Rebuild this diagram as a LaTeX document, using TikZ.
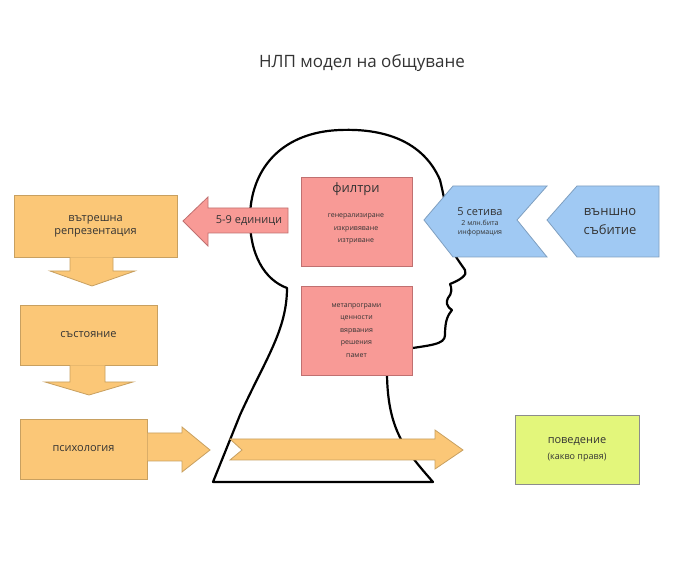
\documentclass[tikz,border=0pt]{standalone}
\usepackage{fontspec}
\setmainfont{Open Sans}
\begin{document}
\begin{tikzpicture}[x=1pt,y=-1pt,
  orng/.style={fill=orng, draw=orngd, line width=0.8pt},
  redb/.style={fill=redc, draw=redd, line width=0.8pt},
  blu/.style={fill=bluc, draw=blud, line width=0.8pt},
  lbl/.style={align=center, font=\fontsize{11}{16}\selectfont, text=black!80},
  sml/.style={align=center, font=\fontsize{7}{12.5}\selectfont, text=black!80}]
\definecolor{orng}{HTML}{FBC777}
\definecolor{orngd}{HTML}{C8A060}
\definecolor{redc}{HTML}{F89A96}
\definecolor{redd}{HTML}{C07070}
\definecolor{bluc}{HTML}{A0C9F3}
\definecolor{blud}{HTML}{7F9FC0}
\definecolor{grn}{HTML}{E3F67B}
\useasboundingbox (0,0) rectangle (678,577);
\fill[white] (0,0) rectangle (678,577);
\node[font=\fontsize{17}{20}\selectfont, text=black!80] (title) at (362,63) {НЛП модел на общуване};
% head
\draw[line width=2.2pt, line join=round] (213,482) -- (433,482)
  .. controls (405,450) and (388,430) .. (387,375) -- (400,350)
  .. controls (430,345) and (445,345) .. (445,335)
  .. controls (445,320) and (448,315) .. (452,310)
  .. controls (446,306) and (446,302) .. (448,298)
  .. controls (452,294) and (452,288) .. (450,284)
  .. controls (460,280) and (468,275) .. (465,270)
  .. controls (458,260) and (452,252) .. (451,245)
  .. controls (448,220) and (445,200) .. (440,180)
  .. controls (425,145) and (390,128) .. (340,130)
  .. controls (285,132) and (252,165) .. (250,215)
  .. controls (249,255) and (265,280) .. (287,288)
  .. controls (287,330) and (265,360) .. (240,415)
  -- (213,482) -- cycle;
% orange
\node[orng, minimum width=163, minimum height=62, lbl] (vr) at (95.5,226) {вътрешна\\[-3pt]репрезентация};
\node[orng, minimum width=137, minimum height=60, lbl] (st) at (88.5,335) {състояние};
\node[orng, minimum width=127, minimum height=60, lbl] (ps) at (83.5,449) {психология};
\draw[orng] (70,257.5) -- (70,271) -- (50,271) -- (92,286) -- (135,271) -- (113,271) -- (113,257.5);
\draw[orng] (70,365.5) -- (70,382) -- (45,382) -- (89,395) -- (133,382) -- (105,382) -- (105,365.5);
\draw[orng] (147.5,433) -- (182,433) -- (182,427) -- (210,450) -- (182,472) -- (182,461) -- (147.5,461);
\draw[orng] (230,439) -- (435,439) -- (435,430) -- (463,450) -- (435,469) -- (435,460) -- (230,460) -- (242,450) -- cycle;
% red
\draw[redb] (288,208) -- (208,208) -- (208,197) -- (183,221) -- (208,246) -- (208,233) -- (288,233) -- cycle;
\node[lbl] (ed) at (249,220.5) {5-9 единици};
\node[redb, minimum width=111, minimum height=89] (fl) at (356.5,221.5) {};
\node[lbl, font=\fontsize{13}{16}\selectfont] (flt) at (356,189) {филтри};
\node[sml] (flx) at (356,229) {генерализиране\\изкривяване\\изтриване};
\node[redb, minimum width=111, minimum height=89, sml] (mp) at (356.5,330.5) {метапрограми\\ценности\\вярвания\\решения\\памет};
% blue
\draw[blu] (424,220) -- (453,186) -- (547,186) -- (517,220) -- (547,257) -- (453,257) -- cycle;
\node[align=center, text=black!80] (set) at (480,222) {{\fontsize{11}{13}\selectfont 5 сетива}\\[-2pt]{\fontsize{7}{11}\selectfont 2 млн.бита}\\[-3pt]{\fontsize{7}{11}\selectfont информация}};
\draw[blu] (547,220) -- (577,186) -- (659,186) -- (659,257) -- (577,257) -- cycle;
\node[lbl, font=\fontsize{13}{19}\selectfont] (vs) at (610,222) {външно\\събитие};
% green
\node[fill=grn, draw=black!45, line width=0.8pt, minimum width=124, minimum height=69, align=center, text=black!80] (pv) at (577,449.5) {{\fontsize{11}{14}\selectfont поведение}\\[4pt]{\fontsize{9}{11}\selectfont (какво правя)}};
\end{tikzpicture}
\end{document}
